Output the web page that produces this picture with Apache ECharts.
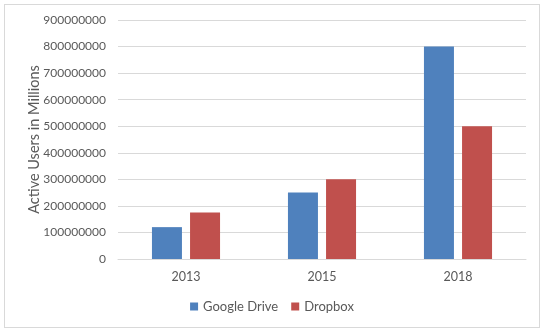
<!DOCTYPE html>
<html>
<head>
<meta charset="utf-8">
<script src="https://cdn.jsdelivr.net/npm/echarts@6/dist/echarts.min.js"></script>
<style>
  html, body { margin: 0; padding: 0; background: #fff; }
  #main { width: 544px; height: 331px; }
  #frame { position: absolute; left: 4px; top: 4px; width: 534px; height: 322px; border: 1px solid #d9d9d9; pointer-events: none; }
</style>
</head>
<body>
<div id="main"></div>
<div id="frame"></div>
<script>
const years = ['2013', '2015', '2018']
const googleDrive = [120000000, 250000000, 800000000]
const dropbox = [175000000, 300000000, 500000000]

const font = 'Lato, "Open Sans", sans-serif'
let chart = echarts.init(document.getElementById('main'))
let option = {
  animation: false,
  textStyle: { fontFamily: font },
  grid: { left: 118, right: 18, top: 20, bottom: 72 },
  legend: {
    bottom: 13,
    left: 'center',
    itemWidth: 8,
    itemHeight: 8,
    itemGap: 13,
    icon: 'rect',
    textStyle: { color: '#595959', fontSize: 13, fontFamily: font },
    data: ['Google Drive', 'Dropbox']
  },
  xAxis: {
    type: 'category',
    data: years,
    axisLine: { lineStyle: { color: '#d9d9d9' } },
    axisTick: { show: false },
    axisLabel: { color: '#595959', fontSize: 12.5, margin: 11 }
  },
  yAxis: {
    type: 'value',
    min: 0,
    max: 900000000,
    interval: 100000000,
    name: 'Active Users in Millions',
    nameLocation: 'middle',
    nameGap: 76,
    nameMoveOverlap: false,
    nameTextStyle: { color: '#595959', fontSize: 14.5, fontFamily: font },
    axisLine: { show: false },
    axisTick: { show: false },
    axisLabel: { color: '#595959', fontSize: 12, margin: 12, formatter: v => String(v) },
    splitLine: { lineStyle: { color: '#d9d9d9' } }
  },
  series: [
    {
      name: 'Google Drive',
      type: 'bar',
      data: googleDrive,
      barWidth: 30,
      barGap: '27%',
      itemStyle: { color: '#4f81bd' }
    },
    {
      name: 'Dropbox',
      type: 'bar',
      data: dropbox,
      barWidth: 30,
      itemStyle: { color: '#c0504d' }
    }
  ]
}
chart.setOption(option)
</script>
</body>
</html>
